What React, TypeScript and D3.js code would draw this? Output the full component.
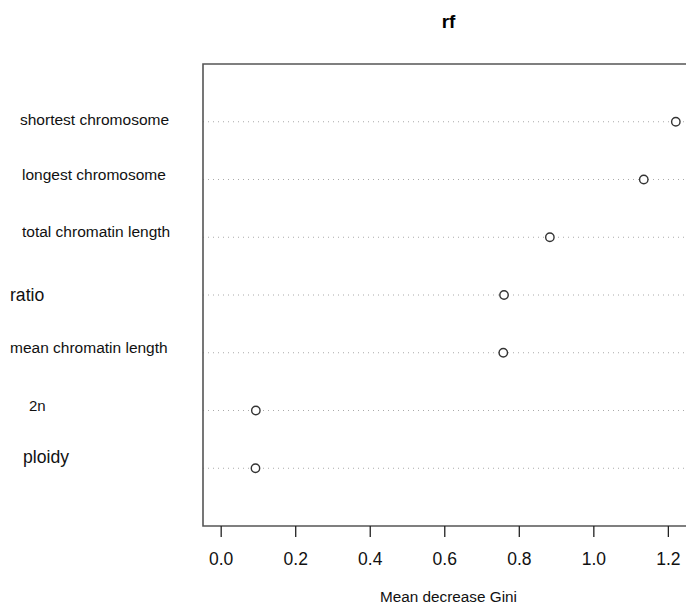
import * as React from 'react';
import * as d3 from 'd3';

// variable importance (MeanDecreaseGini), bottom row first like R's dotchart
const variables = ['ploidy', '2n', 'mean chromatin length', 'ratio', 'total chromatin length', 'longest chromosome', 'shortest chromosome'];
const giniValues = [0.092, 0.093, 0.757, 0.759, 0.882, 1.134, 1.22];
const xTicks = [0, 0.2, 0.4, 0.6, 0.8, 1.0, 1.2];

// the row labels in the picture are not lined up, so each one gets its own nudge
const labelLayout = [
  {x: 23, dy: -10, size: 17.6},
  {x: 29, dy: -3, size: 15},
  {x: 10, dy: -4, size: 15.5},
  {x: 10, dy: 1, size: 17.6},
  {x: 22, dy: -4, size: 15.5},
  {x: 22, dy: -4, size: 15.5},
  {x: 20, dy: -1, size: 15.5},
];

const width = 686;
const height = 609;
const margin = {top: 64, right: -8, bottom: 83, left: 203};
const font = '"Liberation Sans", Arial, Helvetica, sans-serif';

export default function App() {
  const left = margin.left;
  const right = width - margin.right;
  const top = margin.top;
  const bottom = height - margin.bottom;

  // R pads the range 4% on each side, xlim starts at 0 for Gini
  const xMax = d3.max(giniValues) as number;
  const pad = xMax * 0.04;
  const x = d3.scaleLinear().domain([-pad, xMax + pad]).range([left, right]);
  const y = d3.scaleLinear().domain([0, variables.length + 1]).range([bottom, top]);

  return (
    <div style={{position: 'absolute', left: 0, top: 0}}>
      <svg width={width} height={height} style={{display: 'block', background: '#fff'}}>
        <text x={(left + right) / 2} y={28} textAnchor="middle" fontFamily={font} fontWeight="bold" fontSize={19}>rf</text>

        {variables.map((v, i) => (
          <line key={'g' + v} x1={left} x2={right} y1={y(i + 1)} y2={y(i + 1)}
            stroke="#aaa" strokeWidth={1} strokeDasharray="1,4" />
        ))}

        {variables.map((v, i) => (
          <circle key={'p' + v} cx={x(giniValues[i])} cy={y(i + 1)} r={4.2}
            fill="#fff" stroke="#333" strokeWidth={1.4} />
        ))}

        {variables.map((v, i) => (
          <text key={'l' + v} x={labelLayout[i].x} y={y(i + 1) + labelLayout[i].dy}
            dominantBaseline="middle" fontFamily={font} fontSize={labelLayout[i].size} fill="#111">{v}</text>
        ))}

        <path d={`M${right},${top}H${left}V${bottom}H${right}`} fill="none" stroke="#555" strokeWidth={1.6} />

        {xTicks.map(t => (
          <g key={t} transform={`translate(${x(t)},0)`}>
            <line y1={bottom} y2={bottom + 11} stroke="#222" strokeWidth={1.3} />
            <text y={bottom + 39} textAnchor="middle" fontFamily={font} fontSize={17.5} fill="#111">{t.toFixed(1)}</text>
          </g>
        ))}

        <text x={(left + right) / 2} y={602} textAnchor="middle" fontFamily={font} fontSize={15.3} fill="#111">Mean decrease Gini</text>
      </svg>
    </div>
  );
}
